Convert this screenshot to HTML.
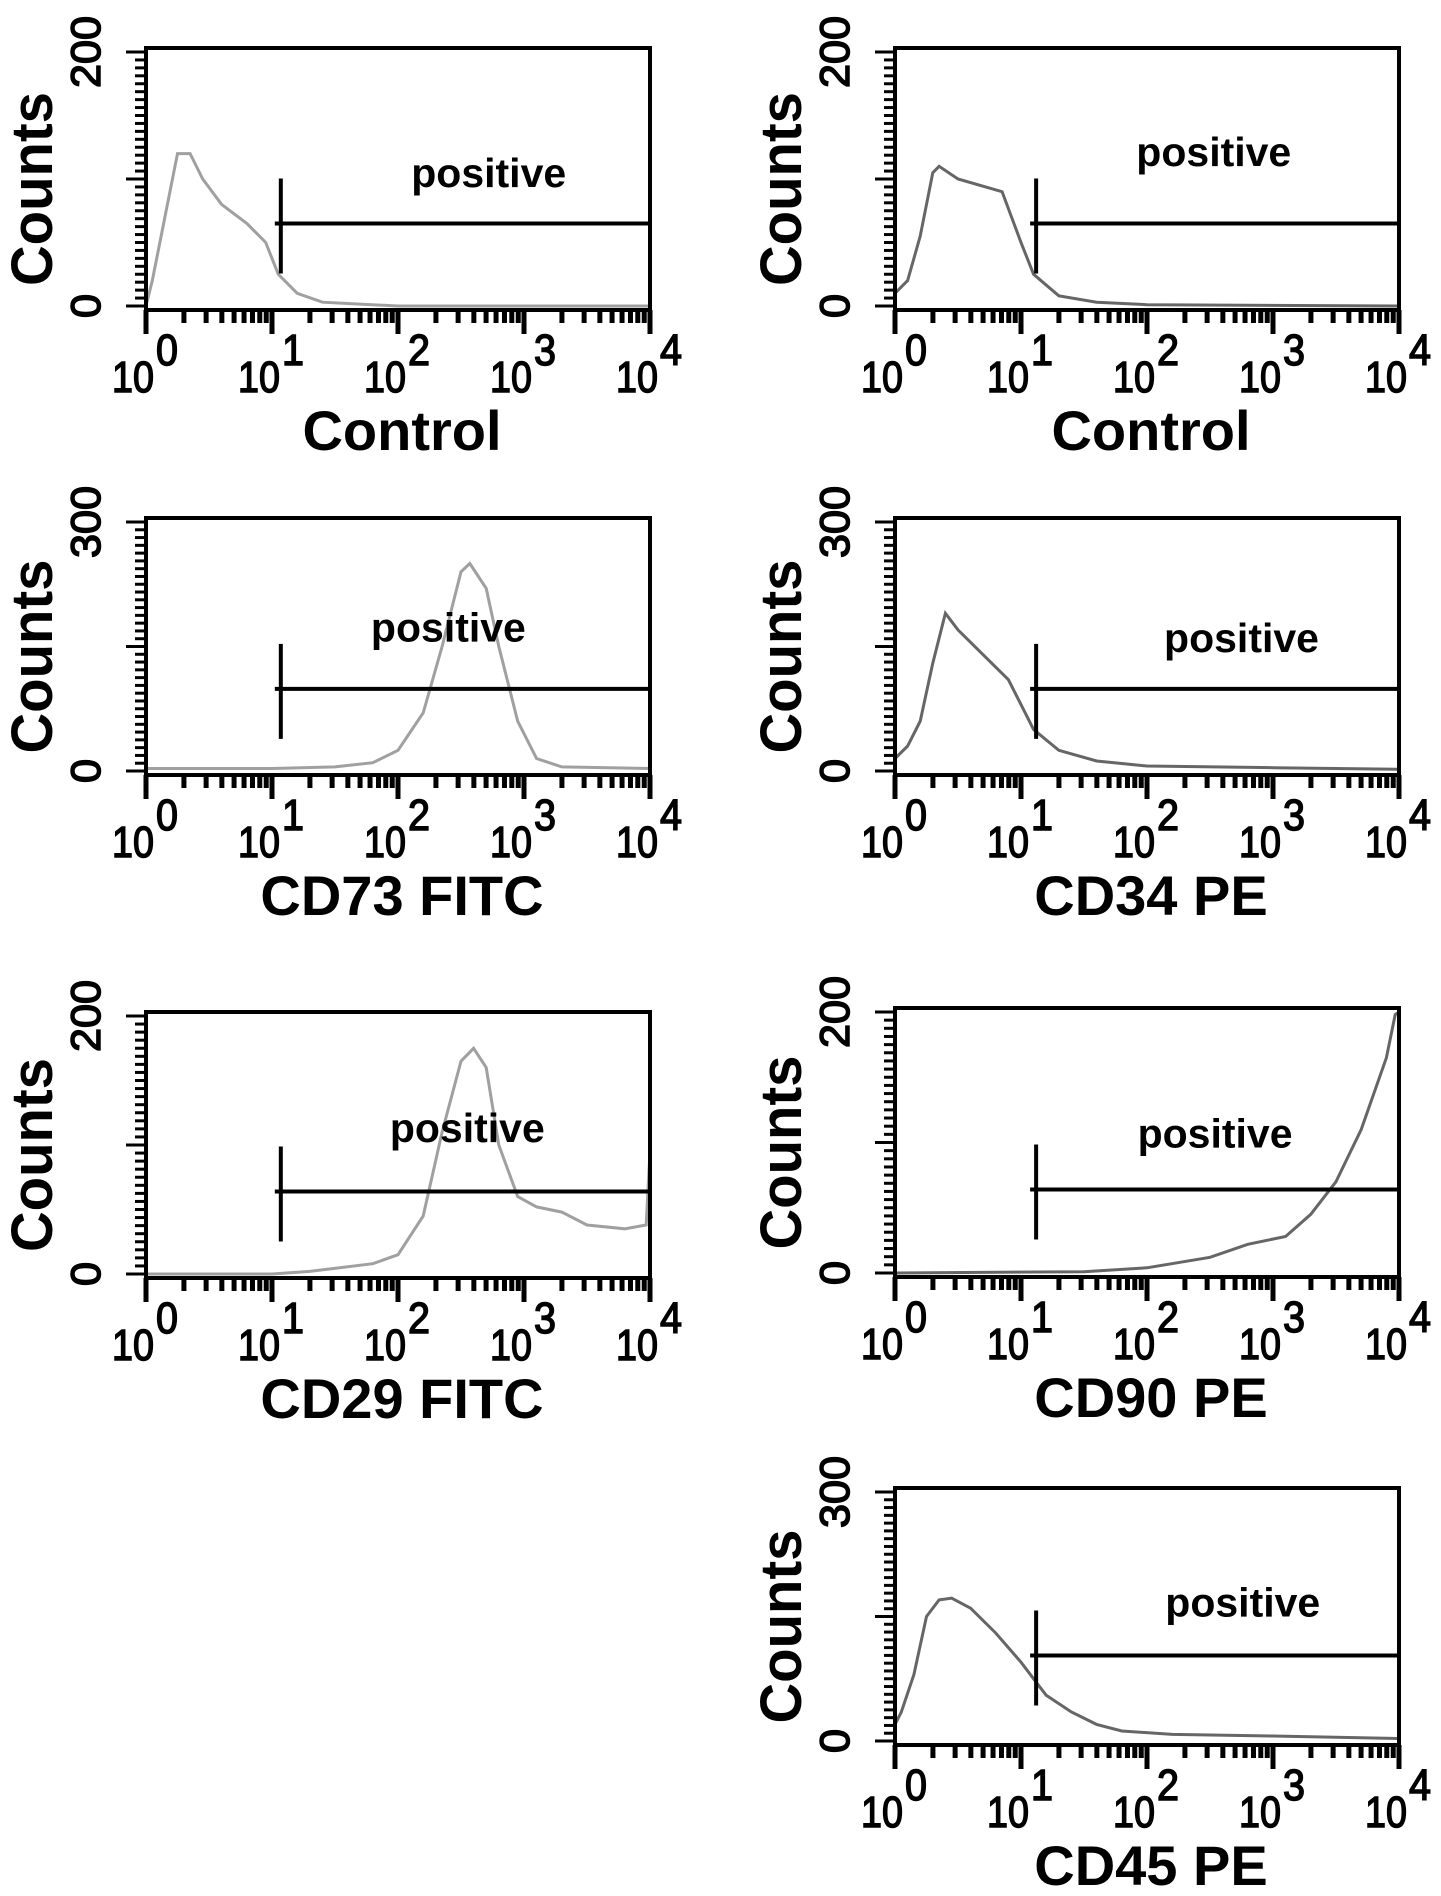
<!DOCTYPE html>
<html><head><meta charset="utf-8"><style>
html,body{margin:0;padding:0;background:#fff}
svg{display:block}
text{font-family:"Liberation Sans",sans-serif}
</style></head><body>
<svg id="fig" width="1441" height="1896" viewBox="0 0 1441 1896" xmlns="http://www.w3.org/2000/svg"></svg>
<script>
// ---- data (x in log10 decades, y in counts) ----
const controlLeftX = [0,0.05,0.15,0.25,0.35,0.45,0.6,0.8,0.95,1.05,1.2,1.4,1.6,2,4];
const controlLeftY = [0,20,70,120,120,100,80,65,50,25,10,3,2,0,0];
const controlRightX = [0,0.1,0.2,0.3,0.35,0.5,0.85,1.0,1.1,1.3,1.6,2,4];
const controlRightY = [10,20,55,105,110,100,90,50,25,8,3,1,0];
const cd73X = [0,1,1.5,1.8,2.0,2.2,2.35,2.5,2.57,2.7,2.8,2.95,3.1,3.3,4];
const cd73Y = [3,3,5,10,25,70,150,240,250,220,150,60,15,5,3];
const cd34X = [0,0.1,0.2,0.3,0.4,0.5,0.7,0.9,1.1,1.3,1.6,2,3,4];
const cd34Y = [15,30,60,130,190,170,140,110,50,25,12,6,4,2];
const cd29X = [0,1,1.3,1.8,2.0,2.2,2.35,2.5,2.6,2.7,2.8,2.95,3.1,3.3,3.5,3.8,3.97,4];
const cd29Y = [0,0,2,8,15,45,110,165,175,160,100,60,52,48,38,35,38,95];
const cd90X = [0,1.5,2,2.5,2.8,3.1,3.3,3.5,3.7,3.9,3.97,4];
const cd90Y = [0,1,4,12,22,28,45,70,110,165,198,200];
const cd45X = [0,0.05,0.15,0.25,0.35,0.45,0.6,0.8,1.0,1.1,1.2,1.4,1.6,1.8,2.2,3,4];
const cd45Y = [20,35,80,150,170,172,160,130,95,75,55,35,20,12,8,6,3];
const gateDecade = [1.07,1.12,1.07,1.12,1.07,1.12,1.12];
const gateCount = [65,65,99,99,64,64,103];
const yMaxValues = [200,200,300,300,200,200,300];
const decadeLabels = ["0","1","2","3","4"];
const titles = ["Control","Control","CD73 FITC","CD34 PE","CD29 FITC","CD90 PE","CD45 PE"];

// ---- layout ----
const panels = [
  {name:"control-left", x0:146,x1:650,y0:48,y1:310, xs:controlLeftX, ys:controlLeftY, col:"#a0a0a0", px:2.72, py:0.48},
  {name:"control-right", x0:895,x1:1399,y0:48,y1:310, xs:controlRightX, ys:controlRightY, col:"#666", px:2.53, py:0.40},
  {name:"cd73", x0:146,x1:650,y0:518,y1:775, xs:cd73X, ys:cd73Y, col:"#a0a0a0", px:2.40, py:0.43},
  {name:"cd34", x0:895,x1:1399,y0:518,y1:775, xs:cd34X, ys:cd34Y, col:"#666", px:2.75, py:0.47},
  {name:"cd29", x0:146,x1:650,y0:1012,y1:1278, xs:cd29X, ys:cd29Y, col:"#a0a0a0", px:2.55, py:0.44},
  {name:"cd90", x0:895,x1:1399,y0:1008,y1:1277, xs:cd90X, ys:cd90Y, col:"#666", px:2.54, py:0.47},
  {name:"cd45", x0:895,x1:1399,y0:1488,y1:1745, xs:cd45X, ys:cd45Y, col:"#666", px:2.76, py:0.45}
];
const NS="http://www.w3.org/2000/svg";
const svg=document.getElementById('fig');
function mk(tag,attrs,parent){const e=document.createElementNS(NS,tag);for(const k in attrs)e.setAttribute(k,attrs[k]);(parent||svg).appendChild(e);return e;}

panels.forEach((p,i)=>{
  const g=mk('g',{});
  
  
  const ymax=yMaxValues[i];
  const sx=d=>p.x0+(p.x1-p.x0)*d/4;
  const sy=v=>(p.y1-4)-((p.y1-4)-(p.y0+4))*v/ymax;
  // y ticks
  const nT=32;
  for(let k=0;k<=nT;k++){
    const y=p.y1-4-(p.y1-p.y0-8)*k/nT;
    const major=(k%16===0);
    const t=mk('line',{x1:p.x0-(major?20:11),x2:p.x0,y1:y,y2:y,stroke:'#000','stroke-width':3},g);
    
    
  }
  // x ticks
  for(let d=0;d<4;d++){
    for(let m=1;m<=10;m++){
      const x=sx(d+Math.log10(m));
      const major=(m===1||m===10);
      const t=mk('line',{x1:x,x2:x,y1:p.y1,y2:p.y1+(major?24:13),stroke:'#000','stroke-width':5},g);
      
      
    }
  }
  // histogram
  const pts=p.xs.map((d,j)=>sx(d).toFixed(1)+','+sy(p.ys[j]).toFixed(1)).join(' ');
  const h=mk('polyline',{points:pts,fill:'none',stroke:p.col,'stroke-width':3,'stroke-linejoin':'miter'},g);
  
  
  // box
  const b=mk('rect',{x:p.x0,y:p.y0,width:p.x1-p.x0,height:p.y1-p.y0,fill:'none',stroke:'#000','stroke-width':4},g);
  
  
  // gate
  const gx=sx(gateDecade[i]), gy=sy(gateCount[i]);
  const gv=mk('line',{x1:gx,x2:gx,y1:gy-45,y2:gy+50,stroke:'#000','stroke-width':4},g);
  
  
  const gh=mk('line',{x1:gx-6,x2:p.x1,y1:gy,y2:gy,stroke:'#000','stroke-width':4},g);
  
  
  const pl=mk('text',{x:sx(p.px),y:p.y0+(p.y1-p.y0)*p.py+13,'font-size':41,'font-weight':'bold','text-anchor':'middle'},g);
  pl.textContent='positive';
  
  
  // y tick labels
  [[0,"0"],[ymax,String(ymax)]].forEach(([v,s])=>{
    const cx=p.x0-60, cy=sy(v);
    const t=mk('text',{x:0,y:0,'font-size':42,'text-anchor':'middle',stroke:'#000','stroke-width':1.5,transform:`translate(${cx+14},${cy}) rotate(-90)`,textLength:s.length*24,lengthAdjust:'spacingAndGlyphs'},g);
    t.textContent=s;
    
    
  });
  // Counts label
  const cl=mk('text',{x:0,y:0,'font-size':58,'font-weight':'bold','text-anchor':'middle',transform:`translate(${p.x0-94},${(p.y0+p.y1)/2+10}) rotate(-90)`,textLength:194,lengthAdjust:'spacingAndGlyphs'},g);
  cl.textContent='Counts';
  
  
  // x tick labels
  decadeLabels.forEach((s,d)=>{
    const x=sx(d);
    const t=mk('text',{x:x-34,y:p.y1+82,'font-size':44,stroke:'#000','stroke-width':1.5,textLength:42,lengthAdjust:'spacingAndGlyphs'},g);
    t.textContent='10';
    
    
    const e=mk('text',{x:x+10,y:p.y1+55,'font-size':44,stroke:'#000','stroke-width':1.5,textLength:22,lengthAdjust:'spacingAndGlyphs'},g);
    e.textContent=s;
    
    
  });
  // title
  const tt=mk('text',{x:(p.x0+p.x1)/2+4,y:p.y1+140,'font-size':56,'font-weight':'bold','text-anchor':'middle'},g);
  tt.textContent=titles[i];
  
  
});
</script>
</body></html>
